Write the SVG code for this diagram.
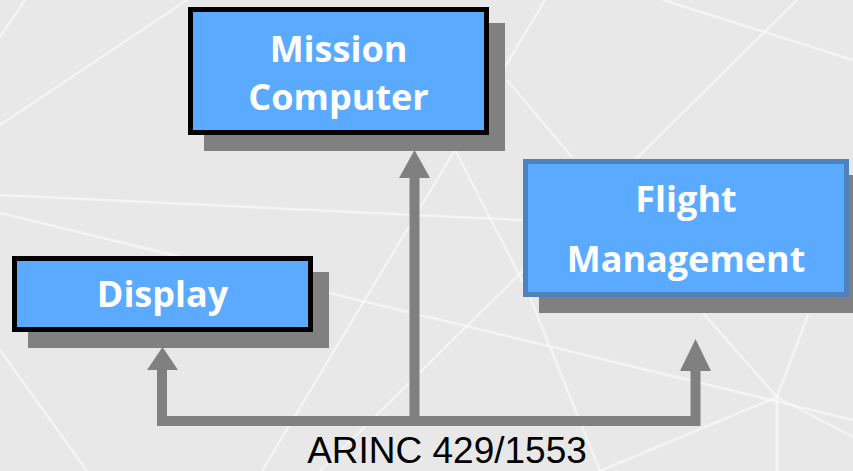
<svg xmlns="http://www.w3.org/2000/svg" width="853" height="471" viewBox="0 0 853 471">
  <style>
    .bgline { stroke: #ffffff; stroke-opacity: 0.5; stroke-width: 2.5; fill: none; }
    .shadow { fill: #808080; }
    .box { fill: #5AABFF; stroke: #000000; stroke-width: 5; }
    .box2 { fill: #5AABFF; stroke: #4F81BD; stroke-width: 5; }
    .label { font-family: "Open Sans", "Noto Sans", sans-serif; font-weight: bold; font-size: 36px; fill: #ffffff; text-anchor: middle; }
    .conn { stroke: #808080; stroke-width: 10; fill: none; stroke-linejoin: miter; }
    .head { fill: #808080; }
    .bus { font-family: "Liberation Sans", Arial, sans-serif; font-size: 37px; fill: #000000; text-anchor: middle; }
  </style>
  <rect x="0" y="0" width="853" height="471" fill="#E8E8E8"/>
  <g id="background">
    <line class="bgline" x1="0" y1="125" x2="187" y2="0"/>
    <line class="bgline" x1="0" y1="37" x2="25" y2="0"/>
    <line class="bgline" x1="0" y1="195" x2="540" y2="221"/>
    <line class="bgline" x1="0" y1="213" x2="853" y2="420"/>
    <line class="bgline" x1="663" y1="0" x2="853" y2="60"/>
    <line class="bgline" x1="797" y1="0" x2="320" y2="471"/>
    <line class="bgline" x1="545" y1="0" x2="262" y2="471"/>
    <line class="bgline" x1="507" y1="80" x2="572" y2="157"/>
    <polyline class="bgline" points="450,140 527,290 600,471"/>
    <line class="bgline" x1="0" y1="350" x2="87" y2="471"/>
    <line class="bgline" x1="703" y1="313" x2="777" y2="397"/>
    <line class="bgline" x1="808" y1="315" x2="777" y2="397"/>
    <line class="bgline" x1="777" y1="397" x2="853" y2="437"/>
    <line class="bgline" x1="777" y1="397" x2="777" y2="471"/>
    <line class="bgline" x1="777" y1="397" x2="600" y2="471"/>
  </g>
  <g id="connectors">
    <path class="conn" d="M162,370 V421 H695.5 V371 M414.5,421 V176"/>
    <polygon class="head" points="147,370 162.5,347 178,370"/>
    <polygon class="head" points="399,178 414.5,150 430,178"/>
    <polygon class="head" points="680,371 695.5,339 711,371"/>
  </g>
  <g id="mission-computer">
    <rect class="shadow" x="204" y="23" width="301" height="128"/>
    <rect class="box" x="190.5" y="9.5" width="296" height="123"/>
    <text class="label" x="338.5" y="62">Mission</text>
    <text class="label" x="338.5" y="110">Computer</text>
  </g>
  <g id="flight-management">
    <rect class="shadow" x="539" y="175" width="320" height="138"/>
    <rect class="box2" x="525.5" y="161.5" width="321" height="133"/>
    <text class="label" x="686" y="212">Flight</text>
    <text class="label" x="686" y="272">Management</text>
  </g>
  <g id="display">
    <rect class="shadow" x="28" y="272" width="301" height="76"/>
    <rect class="box" x="14.5" y="258.5" width="296" height="71"/>
    <text class="label" x="162.5" y="307">Display</text>
  </g>
  <g id="bus-label">
    <text class="bus" x="447" y="463">ARINC 429/1553</text>
  </g>
</svg>
